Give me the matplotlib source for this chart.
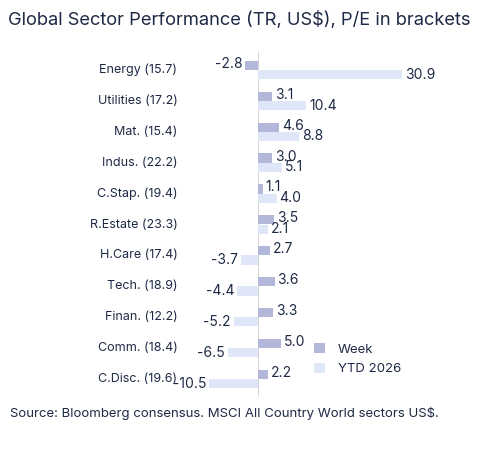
import matplotlib.pyplot as plt
import numpy as np

plt.rcParams['font.family'] = ['Inter', 'DejaVu Sans']

sectors = ["Energy (15.7)", "Utilities (17.2)", "Mat. (15.4)", "Indus. (22.2)", "C.Stap. (19.4)",
           "R.Estate (23.3)", "H.Care (17.4)", "Tech. (18.9)", "Finan. (12.2)", "Comm. (18.4)",
           "C.Disc. (19.6)"]
week = [-2.8, 3.1, 4.6, 3.0, 1.1, 3.5, 2.7, 3.6, 3.3, 5.0, 2.2]
ytd = [30.9, 10.4, 8.8, 5.1, 4.0, 2.1, -3.7, -4.4, -5.2, -6.5, -10.5]

c_week = "#b3b7d9"
c_ytd = "#dfe6f7"
txt = "#1e2a45"

fig = plt.figure(figsize=(5.0, 4.49), dpi=100)
ax = fig.add_axes([0.404, 0.1147, 0.41, 0.7706])
y = np.arange(len(sectors))
h = 0.3
ax.barh(y - h / 2, week, height=h, color=c_week, label="Week")
ax.barh(y + h / 2, ytd, height=h, color=c_ytd, label="YTD 2026")
ax.axvline(0, color="#d0d0d0", lw=0.6, zorder=0)

for i in range(len(sectors)):
    for v, yy in ((week[i], y[i] - h / 2 - 0.05), (ytd[i], y[i] + h / 2)):
        ax.text(v + (0.6 if v >= 0 else -0.6), yy, f"{v:.1f}",
                ha="left" if v >= 0 else "right", va="center", fontsize=10, color=txt)
    ax.text(-0.12, y[i], sectors[i], transform=ax.get_yaxis_transform(),
            ha="right", va="center", fontsize=9, color=txt)

ax.set_xlim(-12, 32)
ax.set_ylim(10.6, -0.6)
ax.axis("off")

leg = ax.legend(loc="lower left", bbox_to_anchor=(0.49, 0.03), frameon=False, fontsize=9.5,
                handlelength=0.8, handleheight=0.8, labelspacing=0.5, handletextpad=1.0)
for t in leg.get_texts():
    t.set_color(txt)

fig.text(0.016, 0.955, "Global Sector Performance (TR, US$), P/E in brackets",
         fontsize=13.2, color=txt, va="center")
fig.text(0.02, 0.08, "Source: Bloomberg consensus. MSCI All Country World sectors US$.",
         fontsize=9.5, color=txt, va="center")

fig.savefig("out.png", dpi=100)
